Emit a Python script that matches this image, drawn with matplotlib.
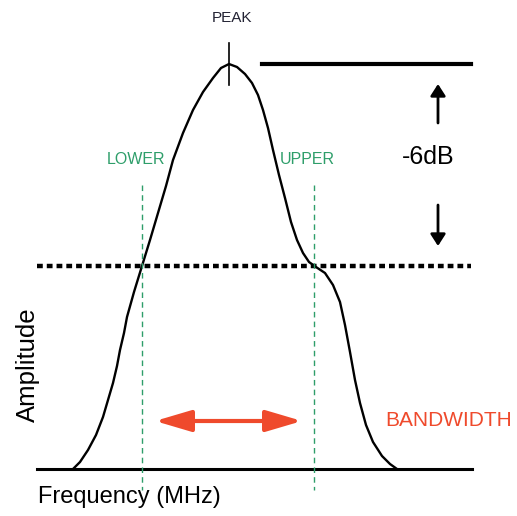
import matplotlib.pyplot as plt
from matplotlib.patches import FancyArrowPatch

plt.rcParams['font.family'] = ['Liberation Sans', 'DejaVu Sans']

## response curve (x across, y down, picture pixels)
freq = [73, 80, 88, 96, 103, 108, 113, 117, 120, 124, 127, 134, 142, 150, 158,
        166, 173, 183, 193, 203, 213, 221, 229, 237, 245, 252, 258, 263, 268,
        273, 279, 285, 291, 297, 303, 309, 316, 325, 333, 340, 345, 350, 355,
        360, 366, 373, 382, 390, 397]
amp = [469, 462, 450, 435, 417, 400, 383, 366, 350, 333, 317, 292, 266, 240, 213,
       186, 160, 133, 110, 92, 78, 68, 64, 67, 74, 83, 95, 110, 128,
       150, 175, 198, 222, 240, 253, 262, 267, 273, 285, 302, 325, 352, 380,
       403, 425, 442, 456, 464, 469]

baseline_y = 469
peak = (229, 64)
half_y = 266          # -6dB level
lower_x = 142
upper_x = 314
labels = ["PEAK", "LOWER", "UPPER", "-6dB", "BANDWIDTH", "Amplitude", "Frequency (MHz)"]

green = '#2e9e6a'
red = '#ef4a2c'

fig = plt.figure(figsize=(5.17, 5.16), dpi=100)
ax = fig.add_axes([0, 0, 1, 1])
ax.set_xlim(0, 517)
ax.set_ylim(516, 0)
ax.axis('off')

# curve and baseline
ax.plot(freq, amp, color='black', lw=1.7, solid_capstyle='round')
ax.plot([37, 472], [baseline_y, baseline_y], color='black', lw=2.2)

# peak tick and peak level line
ax.plot([peak[0], peak[0]], [43, 85], color='black', lw=1.2)
ax.plot([262, 471], [peak[1], peak[1]], color='black', lw=3)

# -6dB dotted line
ax.plot([37, 471], [half_y, half_y], color='black', lw=3.2, linestyle=(0, (1.3, 0.9)))

# lower / upper markers
for x in [lower_x, upper_x]:
    ax.plot([x, x], [185, 490], color=green, lw=1, linestyle=(0, (4, 3)))

# -6dB arrows
ax.add_patch(FancyArrowPatch((438, 123), (438, 84), arrowstyle='-|>,head_length=7,head_width=4.5',
                             color='black', lw=2, mutation_scale=1, shrinkA=0, shrinkB=0))
ax.add_patch(FancyArrowPatch((438, 205), (438, 246), arrowstyle='-|>,head_length=7,head_width=4.5',
                             color='black', lw=2, mutation_scale=1, shrinkA=0, shrinkB=0))

# bandwidth arrow
ax.add_patch(FancyArrowPatch((155, 421), (302, 421), arrowstyle='<|-|>,head_length=22,head_width=6.5',
                             color=red, lw=3, mutation_scale=1, shrinkA=0, shrinkB=0))

# text
ax.text(232, 18, labels[0], ha='center', va='center', fontsize=11, color='#222233')
ax.text(136, 160, labels[1], ha='center', va='center', fontsize=11.5, color=green)
ax.text(307, 160, labels[2], ha='center', va='center', fontsize=11.5, color=green)
ax.text(428, 157, labels[3], ha='center', va='center', fontsize=18, color='black')
ax.text(385, 421, labels[4], ha='left', va='center', fontsize=15, color=red)
ax.text(28, 365, labels[5], ha='center', va='center', fontsize=18.5, rotation=90, color='black')
ax.text(38, 497, labels[6], ha='left', va='center', fontsize=17, color='black')

fig.savefig('out.png', dpi=100)
